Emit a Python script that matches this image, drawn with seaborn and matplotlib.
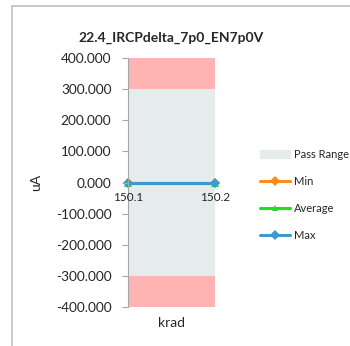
import matplotlib
matplotlib.use("Agg")
import matplotlib.pyplot as plt
import matplotlib.patches as mpatches
import seaborn as sns
import pandas as pd

# chart data
krad = [150.1, 150.2]
min_vals = [0.0, 0.0]
avg_vals = [0.0, 0.0]
max_vals = [0.0, 0.0]
pass_low, pass_high = -300.0, 300.0
fail_low, fail_high = -400.0, 400.0
y_ticks = [400, 300, 200, 100, 0, -100, -200, -300, -400]

sns.set_style("white")
plt.rcParams['font.family'] = ['Lato', 'DejaVu Sans']

df = pd.DataFrame({'krad': krad, 'Min': min_vals, 'Average': avg_vals, 'Max': max_vals})

fig = plt.figure(figsize=(3.5, 3.46), dpi=100)
ax = fig.add_axes([0.366, 0.113, 0.248, 0.719])
ax.set_axisbelow(False)

# limit bands
ax.fill_between(df['krad'], pass_high, fail_high, color='#FFB3B3', lw=0)
ax.fill_between(df['krad'], fail_low, pass_low, color='#FFB3B3', lw=0)
ax.fill_between(df['krad'], pass_low, pass_high, color='#E6EBEB', lw=0)

series = [('Min', '#FF8C1A', 'D'), ('Average', '#22DD22', '^'), ('Max', '#3C9AD0', 'D')]
for name, color, marker in series:
    sns.lineplot(data=df, x='krad', y=name, ax=ax, color=color, marker=marker,
                 markersize=5.5, markeredgewidth=0, linewidth=2.2, clip_on=False)

ax.spines['bottom'].set_position(('data', 0))
ax.spines['bottom'].set_visible(False)
ax.spines['top'].set_visible(False)
ax.spines['right'].set_visible(False)
ax.spines['left'].set_color('#A6A6A6')

ax.set_xlim(krad[0], krad[-1])
ax.set_ylim(fail_low, fail_high)
ax.set_yticks(y_ticks)
ax.set_yticklabels([f"{v:.3f}" for v in y_ticks], fontsize=9.8)
ax.set_xticks(krad)
ax.set_xticklabels([str(k) for k in krad], fontsize=8.5)
ax.tick_params(axis='y', length=4, color='#A6A6A6', direction='out', left=True, pad=8)
ax.tick_params(axis='x', length=0, pad=7)

ax.set_ylabel('uA', fontsize=10)
ax.set_xlabel('krad', fontsize=10)
ax.xaxis.set_label_coords(0.5, -0.04)
ax.yaxis.set_label_coords(-0.99, 0.5)
ax.set_title('22.4_IRCPdelta_7p0_EN7p0V', fontsize=10, fontweight='bold', pad=12)

handles = [mpatches.Patch(color='#E6EBEB', label='Pass Range')]
for name, color, marker in series:
    handles.append(plt.Line2D([], [], color=color, marker=marker, markersize=5,
                              markeredgewidth=0, linewidth=2.2, label=name))
fig.legend(handles=handles, loc='center left', bbox_to_anchor=(0.715, 0.436),
           frameon=False, fontsize=8, handlelength=2.7, labelspacing=1.45,
           handletextpad=0.3)

# outer chart frame
fig.patches.append(mpatches.Rectangle((12 / 350, -0.1), 1.2, 1 - 6 / 346 + 0.1,
                                      transform=fig.transFigure, fill=False,
                                      edgecolor='#BFBFBF', linewidth=1.2))

fig.savefig('out.png', dpi=100)
